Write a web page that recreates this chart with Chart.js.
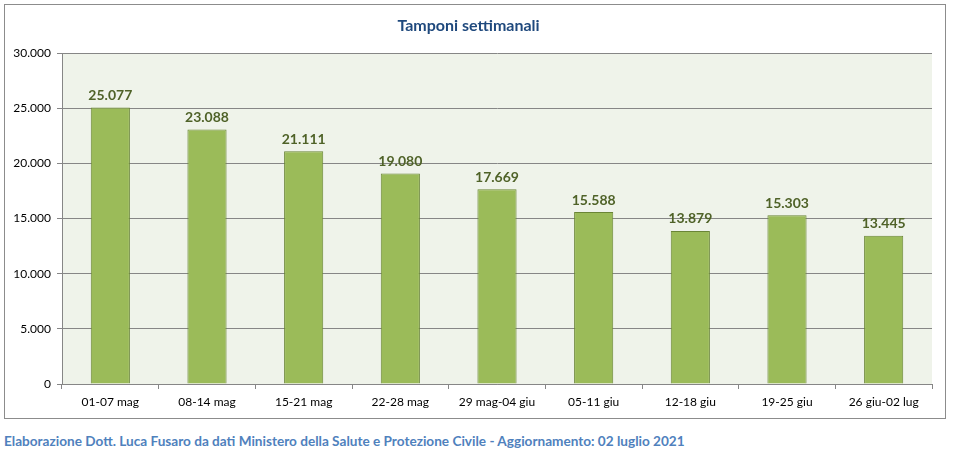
<!DOCTYPE html>
<html>
<head>
<meta charset="utf-8">
<script src="https://cdn.jsdelivr.net/npm/chart.js@4.4.0/dist/chart.umd.min.js"></script>
<style>
  body { margin: 0; background: #fff; font-family: Lato, "Noto Sans", sans-serif; }
  #frame { position: absolute; left: 4px; top: 4px; width: 940px; height: 413px; border: 1px solid #8c8c8c; }
  #frame canvas { position: absolute; left: 0; top: 0; }
  #footer { position: absolute; left: 4px; top: 433px; font-size: 13.6px; font-weight: bold; color: #4f81bd; white-space: nowrap; }
</style>
</head>
<body>
<div id="frame"><canvas id="weeklyTests" width="940" height="413"></canvas></div>
<div id="footer">Elaborazione Dott. Luca Fusaro da dati Ministero della Salute e Protezione Civile - Aggiornamento: 02 luglio 2021</div>
<script>
const weeks = ['01-07 mag', '08-14 mag', '15-21 mag', '22-28 mag', '29 mag-04 giu', '05-11 giu', '12-18 giu', '19-25 giu', '26 giu-02 lug']
const tests = [25077, 23088, 21111, 19080, 17669, 15588, 13879, 15303, 13445]
const yMax = 30000
const yStep = 5000

const fmt = (n) => String(n).replace(/\B(?=(\d{3})+(?!\d))/g, '.')

const plotBackground = {
    id: 'plotBackground',
    beforeDraw(chart) {
        const { ctx, chartArea } = chart
        ctx.save()
        ctx.fillStyle = '#eff3ea'
        ctx.fillRect(chartArea.left, chartArea.top, chartArea.right - chartArea.left, chartArea.bottom - chartArea.top)
        ctx.restore()
    }
}

const barLabels = {
    id: 'barLabels',
    afterDatasetsDraw(chart) {
        const { ctx } = chart
        const meta = chart.getDatasetMeta(0)
        ctx.save()
        ctx.font = 'bold 14px Lato'
        ctx.fillStyle = '#4f6228'
        ctx.textAlign = 'center'
        ctx.textBaseline = 'bottom'
        meta.data.forEach((bar, i) => {
            ctx.fillText(fmt(tests[i]), bar.x, bar.y - 5)
        })
        ctx.restore()
    }
}

new Chart(document.getElementById('weeklyTests'), {
    type: 'bar',
    data: {
        labels: weeks,
        datasets: [{
            label: 'Tamponi',
            data: tests,
            backgroundColor: '#9bbb59',
            borderColor: '#6a8536',
            borderWidth: 1,
            borderSkipped: 'bottom',
            categoryPercentage: 1,
            barPercentage: 0.405
        }]
    },
    options: {
        responsive: false,
        animation: false,
        layout: { padding: { top: 0, right: 13, bottom: 0, left: 0 } },
        plugins: {
            legend: { display: false },
            tooltip: { enabled: false },
            title: {
                display: true,
                text: 'Tamponi settimanali',
                color: '#1f497d',
                font: { family: 'Lato', size: 16, weight: 'bold' },
                padding: { top: 11, bottom: 18 }
            }
        },
        scales: {
            x: {
                offset: true,
                grid: { offset: true, drawOnChartArea: false, drawTicks: true, tickLength: 5, color: '#868686' },
                border: { color: '#868686' },
                ticks: { color: '#000', font: { family: 'Lato', size: 12 }, padding: 6, maxRotation: 0 },
                afterFit: (scale) => { scale.height = 34 }
            },
            y: {
                min: 0,
                max: yMax,
                ticks: { stepSize: yStep, color: '#000', font: { family: 'Lato', size: 12 }, padding: 6, callback: (v) => fmt(v) },
                grid: { color: '#868686', tickLength: 5 },
                border: { color: '#868686' },
                afterFit: (scale) => { scale.width = 57 }
            }
        }
    },
    plugins: [plotBackground, barLabels]
})
</script>
</body>
</html>
